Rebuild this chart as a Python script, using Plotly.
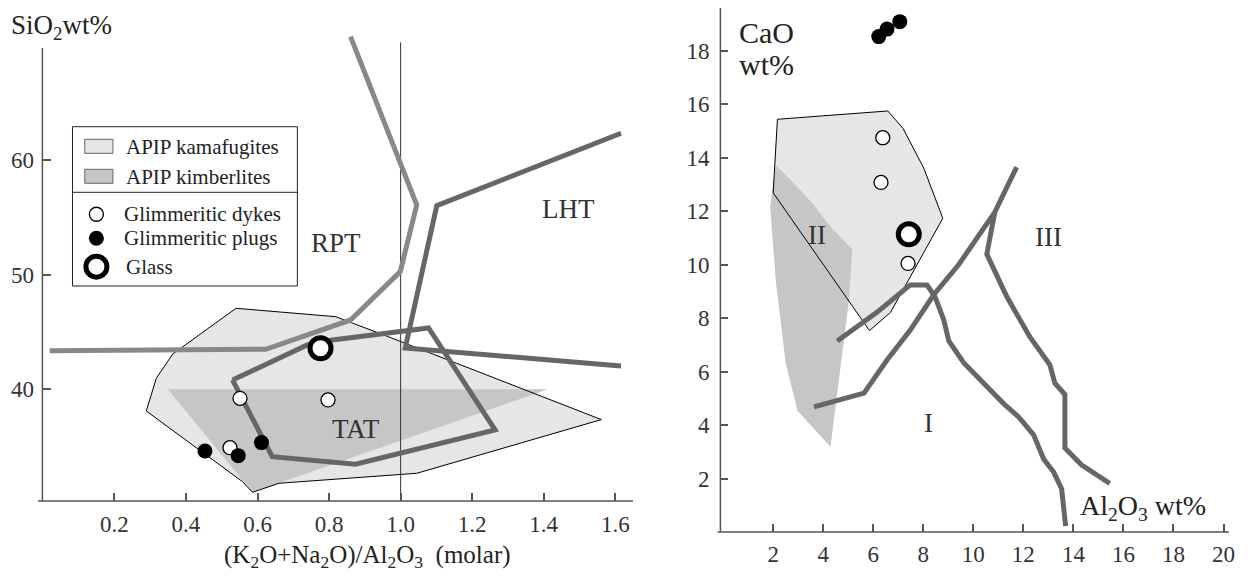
import plotly.graph_objects as go

W, H = 1252, 579          # browser window
OFF = 8                   # default page body margin
FW, FH = W - 2 * OFF, H - 2 * OFF
FONT = "Liberation Serif"
TXT = "#222222"
AX = "#555555"
LIGHT_FILL = "#e6e6e6"
DARK_FILL = "#c6c6c6"
LINE_LIGHT = "#888888"
LINE_DARK = "#666666"

# ---------------- Left panel: SiO2 vs (K2O+Na2O)/Al2O3 ----------------
kam_L_x = [0.289, 0.317, 0.363, 0.540, 0.818, 0.953, 1.561, 1.045, 0.660, 0.586, 0.558, 0.289]
kam_L_y = [38.10, 40.96, 43.08, 47.07, 46.34, 44.74, 37.35, 32.66, 31.79, 31.00, 31.93, 38.10]
kim_L_x = [0.349, 1.412, 0.586, 0.349]
kim_L_y = [40.0, 40.0, 31.0, 40.0]
rpt_x = [0.860, 1.045, 0.999, 0.860, 0.623, 0.019]
rpt_y = [70.79, 56.10, 50.27, 46.05, 43.49, 43.37]
lht_x = [1.616, 1.101, 1.013, 1.616]
lht_y = [62.36, 56.04, 43.61, 42.04]
tat_x = [0.530, 0.641, 0.874, 1.264, 1.078, 0.809, 0.739, 0.530]
tat_y = [40.81, 34.11, 33.45, 36.45, 45.35, 44.31, 43.87, 40.81]
ref_x = [1.0, 1.0]
ref_y = [30.24, 70.3]
dyke_L_x = [0.551, 0.797, 0.523]
dyke_L_y = [39.21, 39.07, 34.90]
plug_L_x = [0.453, 0.546, 0.611]
plug_L_y = [34.61, 34.20, 35.34]
glass_L_x = [0.776]
glass_L_y = [43.58]
left_xticks = [0.2, 0.4, 0.6, 0.8, 1.0, 1.2, 1.4, 1.6]
left_xticktext = ["0.2", "0.4", "0.6", "0.8", "1.0", "1.2", "1.4", "1.6"]
left_yticks = [40, 50, 60]
left_labels = ["RPT", "LHT", "TAT"]
left_label_x = [0.818, 1.468, 0.874]
left_label_y = [52.8, 55.7, 36.5]

# ---------------- Right panel: CaO vs Al2O3 ----------------
kam_R_x = [2.17, 6.58, 7.19, 8.02, 8.78, 6.69, 5.85, 2.00, 2.17]
kam_R_y = [15.43, 15.74, 15.09, 13.60, 11.73, 8.21, 7.53, 12.68, 15.43]
kim_R_x = [2.10, 2.70, 3.57, 4.29, 5.16, 5.03, 4.29, 2.97, 2.50, 2.10, 1.88, 2.10]
kim_R_y = [13.72, 13.16, 12.29, 11.41, 10.57, 8.67, 3.19, 4.53, 6.31, 9.42, 12.14, 13.72]
lineA_x = [4.56, 6.16, 7.47, 8.15, 8.47, 8.82, 9.02, 9.62, 11.22, 11.81, 12.41, 12.81, 13.21, 13.53, 13.69]
lineA_y = [7.14, 8.22, 9.23, 9.23, 8.79, 7.93, 7.14, 6.32, 4.79, 4.30, 3.63, 2.73, 2.24, 1.61, 0.22]
lineB_x = [3.63, 5.63, 6.55, 7.48, 8.41, 9.41, 10.86, 11.73]
lineB_y = [4.68, 5.19, 6.43, 7.55, 8.86, 9.99, 11.96, 13.64]
lineC_x = [10.86, 10.61, 10.54, 11.33, 12.26, 13.06, 13.26, 13.66, 13.66, 14.32, 15.45]
lineC_y = [11.96, 10.65, 10.39, 8.81, 7.29, 6.25, 5.56, 5.14, 3.14, 2.51, 1.82]
dyke_R_x = [6.38, 6.31, 7.39]
dyke_R_y = [14.74, 13.07, 10.04]
plug_R_x = [6.22, 6.55, 7.06]
plug_R_y = [18.52, 18.80, 19.08]
glass_R_x = [7.42]
glass_R_y = [11.13]
right_xticks = [2, 4, 6, 8, 10, 12, 14, 16, 18, 20]
right_yticks = [2, 4, 6, 8, 10, 12, 14, 16, 18]
right_labels = ["II", "I", "III"]
right_label_x = [3.76, 8.19, 12.99]
right_label_y = [11.10, 4.06, 11.03]

# Legend entries
legend_patch_labels = ["APIP kamafugites", "APIP kimberlites"]
legend_marker_labels = ["Glimmeritic dykes", "Glimmeritic plugs", "Glass"]
legend_marker_kinds = ["dyke", "plug", "glass"]

# ---------------- helpers (window pixel -> paper) ----------------
def px(x):
    return (x - OFF) / FW

def py(y):
    return 1 - (y - OFF) / FH

# left-panel pixel -> data (used only for placing legend symbols)
def lx(x):
    return (x - 43) / 359.0

def ly(y):
    return 40 + (389.3 - y) / 11.45

fig = go.Figure()

def poly_fill(xs, ys, color, xa, ya):
    fig.add_trace(go.Scatter(x=xs, y=ys, mode="lines", fill="toself", fillcolor=color,
                             line=dict(width=0, color=color), hoverinfo="skip",
                             xaxis=xa, yaxis=ya, showlegend=False))

def poly_line(xs, ys, color, width, xa, ya):
    fig.add_trace(go.Scatter(x=xs, y=ys, mode="lines", line=dict(color=color, width=width),
                             hoverinfo="skip", xaxis=xa, yaxis=ya, showlegend=False))

def points(xs, ys, kind, xa, ya):
    if kind == "dyke":
        m = dict(size=14, color="white", line=dict(color="black", width=1.3))
    elif kind == "plug":
        m = dict(size=15, color="black", line=dict(color="black", width=0))
    else:
        m = dict(size=21, color="white", line=dict(color="black", width=5))
    fig.add_trace(go.Scatter(x=xs, y=ys, mode="markers", marker=m, hoverinfo="skip",
                             xaxis=xa, yaxis=ya, showlegend=False, cliponaxis=False))

# Left panel
poly_fill(kam_L_x, kam_L_y, LIGHT_FILL, "x", "y")
poly_fill(kim_L_x, kim_L_y, DARK_FILL, "x", "y")
poly_line(kam_L_x, kam_L_y, "black", 1, "x", "y")
poly_line(ref_x, ref_y, "#333333", 1, "x", "y")
poly_line(rpt_x, rpt_y, LINE_LIGHT, 5, "x", "y")
poly_line(lht_x, lht_y, LINE_DARK, 5, "x", "y")
poly_line(tat_x, tat_y, LINE_DARK, 5, "x", "y")
points(dyke_L_x, dyke_L_y, "dyke", "x", "y")
points(plug_L_x, plug_L_y, "plug", "x", "y")
points(glass_L_x, glass_L_y, "glass", "x", "y")

# Right panel
poly_fill(kam_R_x, kam_R_y, LIGHT_FILL, "x2", "y2")
poly_fill(kim_R_x, kim_R_y, DARK_FILL, "x2", "y2")
poly_line(kam_R_x, kam_R_y, "black", 1, "x2", "y2")
poly_line(lineA_x, lineA_y, LINE_DARK, 5, "x2", "y2")
poly_line(lineB_x, lineB_y, LINE_DARK, 5, "x2", "y2")
poly_line(lineC_x, lineC_y, LINE_DARK, 5, "x2", "y2")
points(dyke_R_x, dyke_R_y, "dyke", "x2", "y2")
points(plug_R_x, plug_R_y, "plug", "x2", "y2")
points(glass_R_x, glass_R_y, "glass", "x2", "y2")

# Legend symbols (placed in the left panel)
leg_mx = 96.7
leg_my = [214.3, 238.3, 266.7]
for kind, yy in zip(legend_marker_kinds, leg_my):
    points([lx(leg_mx)], [ly(yy)], kind, "x", "y")

tickfont = dict(family=FONT, size=23, color="#333333")
common = dict(showgrid=False, zeroline=False, showline=False, ticks="inside",
              ticklen=8, tickwidth=1.5, tickcolor=AX, tickfont=tickfont)

fig.update_layout(
    width=FW, height=FH, autosize=False,
    margin=dict(l=0, r=0, t=0, b=0),
    paper_bgcolor="white", plot_bgcolor="rgba(0,0,0,0)",
    showlegend=False,
    xaxis=dict(domain=[px(43), px(637)], range=[0, 1.655], tickvals=left_xticks,
               ticktext=left_xticktext, anchor="y", ticklabelstandoff=7, **common),
    yaxis=dict(domain=[py(501), py(34.3)], range=[30.24, 71], tickvals=left_yticks,
               anchor="x", ticklabelstandoff=8, **common),
    xaxis2=dict(domain=[px(722.7), px(1235)], range=[-0.11, 20.3], tickvals=right_xticks,
                anchor="y2", ticklabelstandoff=6, **common),
    yaxis2=dict(domain=[py(532), py(10.4)], range=[0, 19.5], tickvals=right_yticks,
                anchor="x2", ticklabelstandoff=10, **common),
)

shapes = []
def pline(x0, y0, x1, y1, color=AX, width=1.5):
    shapes.append(dict(type="line", xref="paper", yref="paper", x0=px(x0), y0=py(y0),
                       x1=px(x1), y1=py(y1), line=dict(color=color, width=width)))

# axis lines
pline(42.5, 48, 42.5, 501)
pline(38, 501, 635, 501)
pline(722.7, 7, 722.7, 532)
pline(720, 532, 1233, 532)

# legend box
shapes.append(dict(type="rect", xref="paper", yref="paper", x0=px(72.7), y0=py(286),
                   x1=px(298.3), y1=py(126.7), line=dict(color="#222222", width=1),
                   fillcolor="white", layer="below"))
pline(72.7, 192.3, 298.3, 192.3, color="#222222", width=1)
for (y0, y1), col in zip([(139.3, 153.3), (169.3, 183.3)], [LIGHT_FILL, DARK_FILL]):
    shapes.append(dict(type="rect", xref="paper", yref="paper", x0=px(85), y0=py(y1),
                       x1=px(113.3), y1=py(y0), line=dict(color="#666666", width=1),
                       fillcolor=col))
fig.update_layout(shapes=shapes)

ann = []
def ptext(text, x, y, size, xanchor="left", yanchor="middle"):
    ann.append(dict(text=text, x=px(x), y=py(y), xref="paper", yref="paper",
                    xanchor=xanchor, yanchor=yanchor, showarrow=False,
                    font=dict(family=FONT, size=size, color=TXT)))

for t, yy in zip(legend_patch_labels, [146.7, 176.7]):
    ptext(t, 124, yy, 21)
for t, yy, xx in zip(legend_marker_labels, leg_my, [122, 122, 124]):
    ptext(t, xx, yy, 21)

ptext("SiO<sub>2</sub>wt%", 9, 8.5, 27, yanchor="top")
ptext("(K<sub>2</sub>O+Na<sub>2</sub>O)/Al<sub>2</sub>O<sub>3</sub>&nbsp;&nbsp;(molar)", 369, 556, 25,
      xanchor="center")
ptext("CaO", 739, 32, 30)
ptext("wt%", 739, 65, 30)
ptext("Al<sub>2</sub>O<sub>3</sub> wt%", 1147, 507, 28, xanchor="center")

for t, xx, yy in zip(left_labels, left_label_x, left_label_y):
    ann.append(dict(text=t, x=xx, y=yy, xref="x", yref="y", showarrow=False,
                    font=dict(family=FONT, size=27, color="#333333")))
for t, xx, yy in zip(right_labels, right_label_x, right_label_y):
    ann.append(dict(text=t, x=xx, y=yy, xref="x2", yref="y2", showarrow=False,
                    font=dict(family=FONT, size=27, color="#333333")))
fig.update_layout(annotations=ann)

fig.write_html("out.html")
